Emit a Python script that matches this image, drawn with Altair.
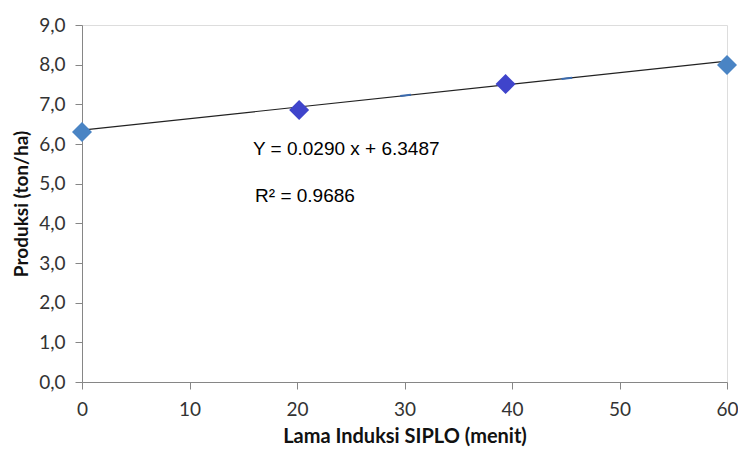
import altair as alt
import pandas as pd

# Data
x_menit = [0, 20.2, 39.4, 60]
produksi = [6.30, 6.86, 7.51, 7.99]
point_group = ["ujung", "tengah", "tengah", "ujung"]

trend_x = [0, 60]
trend_y = [6.3487, 8.0887]

# small blue dash fragments visible on the trend line
dash_x = [29.6, 44.6]
dash_x2 = [30.6, 45.6]
dash_y = [7.21, 7.64]
dash_y2 = [7.24, 7.67]

annot_text = ["Y = 0.0290 x + 6.3487", "R² = 0.9686"]
annot_x = [15.9, 16.1]
annot_y = [5.88, 4.70]

x_ticks = [0, 10, 20, 30, 40, 50, 60]
y_ticks = [0, 1, 2, 3, 4, 5, 6, 7, 8, 9]

pts = pd.DataFrame({"x": x_menit, "y": produksi, "g": point_group})
trend = pd.DataFrame({"x": trend_x, "y": trend_y})
dashes = pd.DataFrame({"x": dash_x, "x2": dash_x2, "y": dash_y, "y2": dash_y2})
annot = pd.DataFrame({"x": annot_x, "y": annot_y, "t": annot_text})

axis_color = "#868686"
label_font = "Lato"

x_scale = alt.Scale(domain=[0, 60], nice=False, zero=False)
y_scale = alt.Scale(domain=[0, 9], nice=False)

x_axis = alt.Axis(
    values=x_ticks, title="Lama Induksi SIPLO (menit)", grid=False,
    domainColor=axis_color, tickColor=axis_color, tickSize=7,
    labelFont=label_font, labelFontSize=19, labelColor="#333333", labelPadding=11,
    labelOverlap=False,
    titleFont=label_font, titleFontSize=20, titleFontWeight="bold", titleColor="#111111",
    titlePadding=7, labelFlush=False,
)
y_axis = alt.Axis(
    values=y_ticks, title="Produksi (ton/ha)", grid=False,
    domainColor=axis_color, tickColor=axis_color, tickSize=7,
    labelFont=label_font, labelFontSize=19, labelColor="#333333", labelPadding=10,
    labelOverlap=False,
    labelExpr="replace(format(datum.value, '.1f'), '.', ',')",
    titleFont=label_font, titleFontSize=19, titleFontWeight="bold", titleColor="#111111",
    titlePadding=7,
)

X = alt.X("x:Q", scale=x_scale, axis=x_axis)
Y = alt.Y("y:Q", scale=y_scale, axis=y_axis)

line = alt.Chart(trend).mark_line(color="#222222", strokeWidth=1.2).encode(x=X, y=Y)

dash = alt.Chart(dashes).mark_rule(color="#3A6AAE", strokeWidth=2).encode(
    x=X, x2="x2:Q", y=Y, y2="y2:Q",
)

points = alt.Chart(pts).mark_point(shape="diamond", filled=True, size=400, opacity=1).encode(
    x=X, y=Y,
    color=alt.Color("g:N", scale=alt.Scale(domain=["ujung", "tengah"], range=["#4A84C4", "#3F44CB"]), legend=None),
)

text = alt.Chart(annot).mark_text(
    align="left", baseline="middle", font="Liberation Sans", fontSize=19, color="#000000"
).encode(x=X, y=Y, text="t:N")

chart = alt.layer(line, dash, points, text).properties(
    width=645, height=357,
    autosize=alt.AutoSizeParams(type="none"),
    padding={"left": 74, "top": 17, "right": 11, "bottom": 65},
).configure_view(stroke=None).configure(background="white")

chart.save("out.html", embed_options={"renderer": "svg", "actions": False})
